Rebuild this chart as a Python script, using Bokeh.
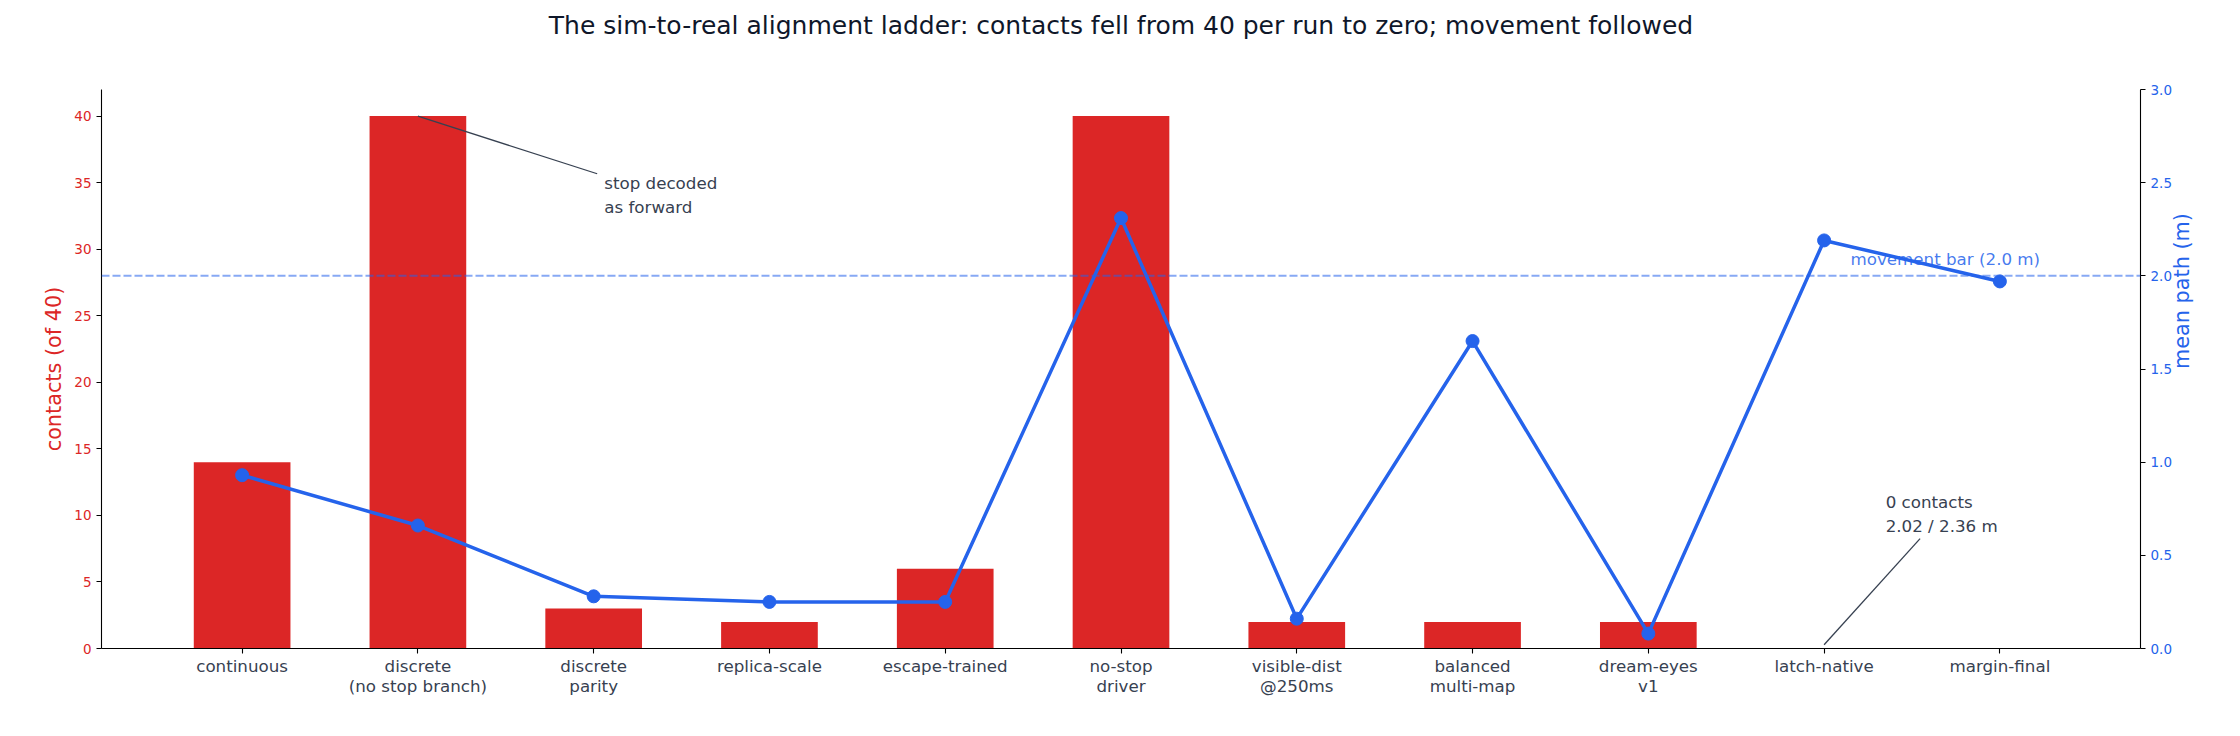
import math
from bokeh.plotting import figure
from bokeh.models import Range1d, LinearAxis, FixedTicker, Span, Label
from bokeh.embed import file_html
from bokeh.resources import INLINE

# ---- data ----
categories = ["continuous", "discrete\n(no stop branch)", "discrete\nparity", "replica-scale",
              "escape-trained", "no-stop\ndriver", "visible-dist\n@250ms", "balanced\nmulti-map",
              "dream-eyes\nv1", "latch-native", "margin-final"]
contacts = [14, 40, 3, 2, 6, 40, 2, 2, 2, 0, 0]
mean_path = [0.93, 0.66, 0.28, 0.25, 0.25, 2.31, 0.16, 1.65, 0.08, 2.19, 1.97]
movement_bar = 2.0
contact_ticks = [0, 5, 10, 15, 20, 25, 30, 35, 40]
path_ticks = [0.0, 0.5, 1.0, 1.5, 2.0, 2.5, 3.0]
title_text = "The sim-to-real alignment ladder: contacts fell from 40 per run to zero; movement followed"

FONT = "DejaVu Sans"
RED = "#dc2626"
BLUE = "#2563eb"
INK = "#374151"

xs = list(range(len(categories)))
n = len(categories)

p = figure(width=2224, height=720,
           x_range=Range1d(-0.8, n - 0.2),
           y_range=Range1d(0, 42),
           output_backend="svg", toolbar_location=None,
           min_border_left=101, min_border_right=84, min_border_top=89, min_border_bottom=72)
p.extra_y_ranges = {"path": Range1d(0, 3)}
p.outline_line_color = None
p.grid.visible = False
p.background_fill_color = "white"
p.border_fill_color = "white"

# title
p.title.text = title_text
p.title.align = "center"
p.title.text_font = FONT
p.title.text_font_size = "25px"
p.title.text_font_style = "normal"
p.title.text_color = "#0f172a"
p.title.standoff = 10

# blank top axis used only as a spacer between the title and the frame
spacer = LinearAxis(ticker=FixedTicker(ticks=[(n - 1) / 2]),
                    major_label_overrides={(n - 1) / 2: ""},
                    axis_line_color=None, major_tick_out=45, major_tick_in=0,
                    major_tick_line_color="white", minor_tick_line_color=None,
                    major_label_standoff=0, major_label_text_font_size="1px")
p.add_layout(spacer, "above")

# bars
p.vbar(x=xs, top=contacts, width=0.55, fill_color=RED, line_color=None)

# movement bar threshold
p.add_layout(Span(location=movement_bar, dimension="width", y_range_name="path",
                  line_color=BLUE, line_alpha=0.55, line_width=2, line_dash="8 3"))
p.add_layout(Label(x=9.15, y=2.09, y_range_name="path", text="movement bar (2.0 m)",
                   text_font=FONT, text_font_size="16.7px", text_color=BLUE, text_alpha=0.85,
                   text_baseline="alphabetic", text_align="left"))

# annotations
p.segment(x0=[1.0], y0=[40], x1=[2.02], y1=[35.67], line_color=INK, line_width=1.3)
p.add_layout(Label(x=2.06, y=35.75, text="stop decoded\nas forward",
                   text_font=FONT, text_font_size="16.7px", text_color=INK,
                   text_baseline="top", text_align="left", text_line_height=1.2))
p.segment(x0=[9.0], y0=[0.02], x1=[9.546], y1=[0.59], y_range_name="path",
          line_color=INK, line_width=1.3)
p.add_layout(Label(x=9.35, y=0.84, y_range_name="path", text="0 contacts\n2.02 / 2.36 m",
                   text_font=FONT, text_font_size="16.7px", text_color=INK,
                   text_baseline="top", text_align="left", text_line_height=1.2))

# mean path line
p.line(xs, mean_path, y_range_name="path", line_color=BLUE, line_width=3.5)
p.scatter(xs, mean_path, y_range_name="path", size=13, fill_color=BLUE, line_color=BLUE)

# axes
def style_axis(ax, color, label_color):
    ax.axis_line_color = "black"
    ax.axis_line_width = 1.1
    ax.major_tick_line_color = "black"
    ax.major_tick_line_width = 1.1
    ax.major_tick_out = 5
    ax.major_tick_in = 0
    ax.minor_tick_line_color = None
    ax.major_label_text_font = FONT
    ax.major_label_text_color = label_color
    ax.axis_label_text_font = FONT
    ax.axis_label_text_font_style = "normal"
    ax.axis_label_text_color = color
    ax.major_label_standoff = 5

xa = p.below[0]
style_axis(xa, INK, INK)
xa.ticker = FixedTicker(ticks=xs)
xa.major_label_overrides = {i: c for i, c in enumerate(categories)}
xa.major_label_text_font_size = "16.7px"
xa.major_label_standoff = 2
xa.major_label_text_line_height = 1.0

ya = p.left[0]
style_axis(ya, RED, RED)
ya.ticker = FixedTicker(ticks=contact_ticks)
ya.major_label_text_font_size = "13.5px"
ya.axis_label = "contacts (of 40)"
ya.axis_label_text_font_size = "20.8px"
ya.axis_label_standoff = 5

ra = LinearAxis(y_range_name="path")
style_axis(ra, BLUE, BLUE)
ra.ticker = FixedTicker(ticks=path_ticks)
ra.major_label_overrides = {t: f"{t:.1f}" for t in path_ticks}
ra.major_label_text_font_size = "13.5px"
ra.axis_label = "mean path (m)"
ra.axis_label_text_font_size = "20.8px"
ra.axis_label_standoff = 7
try:
    ra.axis_label_orientation = math.pi / 2
except Exception:
    pass
p.add_layout(ra, "right")

open("out.html", "w").write(file_html(p, INLINE))
